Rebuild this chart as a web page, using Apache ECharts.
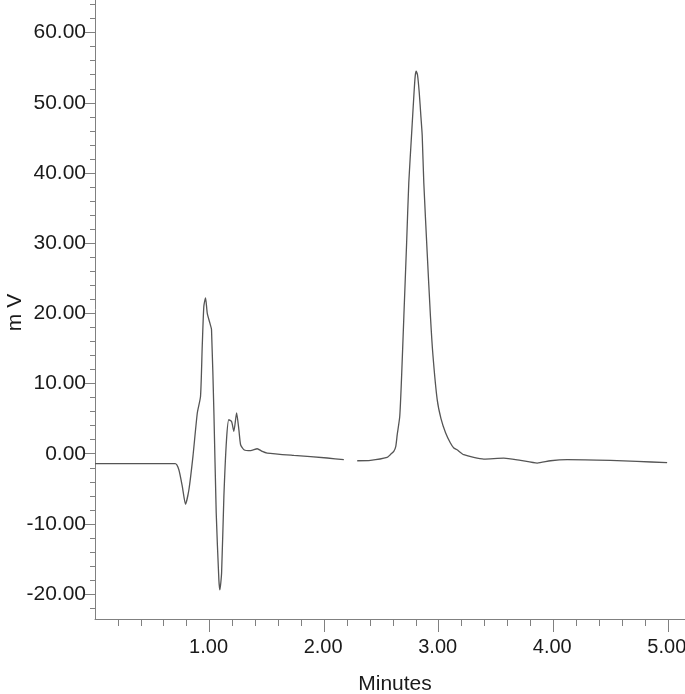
<!DOCTYPE html>
<html>
<head>
<meta charset="utf-8">
<script src="https://cdn.jsdelivr.net/npm/echarts@6/dist/echarts.min.js"></script>
<style>
html,body{margin:0;padding:0;background:#fff;}
#chart{width:685px;height:694px;}
</style>
</head>
<body>
<div id="chart"></div>
<script>
// Retention time (minutes)
const timeMin = [0.00, 0.70, 0.732, 0.762, 0.79, 0.82, 0.855, 0.893, 0.921, 0.936, 0.950, 0.965, 0.98, 1.003, 1.017, 1.038, 1.058, 1.081, 1.09, 1.105, 1.125, 1.148, 1.168, 1.192, 1.212, 1.236, 1.256, 1.271, 1.30, 1.358, 1.416, 1.46, 1.503, 1.736, 2.027, 2.172, 2.23, 2.289, 2.405, 2.55, 2.58, 2.608, 2.625, 2.638, 2.66, 2.675, 2.696, 2.72, 2.739, 2.763, 2.785, 2.795, 2.804, 2.815, 2.83, 2.845, 2.856, 2.87, 2.9, 2.928, 2.95, 2.987, 3.02, 3.06, 3.1, 3.132, 3.16, 3.219, 3.394, 3.568, 3.714, 3.86, 3.976, 4.121, 4.5, 4.73, 4.994];
// Detector signal (mV)
const signalMV = [-1.42, -1.42, -2.28, -4.66, -7.2, -5.1, -0.38, 5.8, 8.16, 15.3, 21.0, 22.2, 20.0, 18.6, 17.7, 5.8, -8.4, -17.9, -19.4, -17.0, -6.1, 2.0, 4.84, 4.6, 3.2, 5.8, 3.4, 1.28, 0.57, 0.43, 0.71, 0.33, 0.1, -0.24, -0.61, -0.85, null, -1.0, -0.95, -0.53, -0.1, 0.33, 1.0, 2.71, 5.3, 10.5, 19.6, 30.0, 38.6, 45.4, 51.5, 53.8, 54.5, 54.0, 51.5, 48.0, 45.4, 38.6, 28.5, 19.6, 14.0, 7.7, 5.0, 2.99, 1.6, 0.81, 0.57, -0.14, -0.76, -0.62, -0.95, -1.33, -1.0, -0.85, -0.95, -1.09, -1.28];

const xMajorTicks = [1, 2, 3, 4, 5];
const xMinorTicks = [0.2, 0.4, 0.6, 0.8, 1.2, 1.4, 1.6, 1.8, 2.2, 2.4, 2.6, 2.8, 3.2, 3.4, 3.6, 3.8, 4.2, 4.4, 4.6, 4.8];
const yMajorTicks = [-20, -10, 0, 10, 20, 30, 40, 50, 60];
const yMinorTicks = [-22, -18, -16, -14, -12, -8, -6, -4, -2, 2, 4, 6, 8, 12, 14, 16, 18, 22, 24, 26, 28, 32, 34, 36, 38, 42, 44, 46, 48, 52, 54, 56, 58, 62, 64];

const xName = 'Minutes';
const yName = 'm V';

const seriesData = timeMin.map((t, i) => [t, signalMV[i]]);

const font = '"Liberation Sans", Arial, Helvetica, sans-serif';
const axisGray = '#808080';
const textColor = '#1a1a1a';

const chart = echarts.init(document.getElementById('chart'), null, {renderer: 'canvas'});
chart.setOption({
  animation: false,
  backgroundColor: '#ffffff',
  grid: {left: 95, right: 0, top: 0, bottom: 75, containLabel: false, outerBoundsMode: 'none'},
  xAxis: [
    {
      type: 'value', min: 0, max: 5.15, position: 'bottom',
      name: xName, nameLocation: 'middle', nameGap: 55, nameMoveOverlap: false,
      nameTextStyle: {fontFamily: font, fontSize: 21, color: textColor, padding: [0, 0, 0, 10]},
      axisLine: {show: true, onZero: false, lineStyle: {color: axisGray, width: 1}},
      axisTick: {show: true, length: 13, customValues: xMajorTicks, lineStyle: {color: axisGray}},
      axisLabel: {show: true, customValues: xMajorTicks, margin: 18, fontSize: 20, fontFamily: font, color: textColor,
        padding: [0, 2, 0, 0], formatter: v => v.toFixed(2)},
      splitLine: {show: false}
    },
    {
      type: 'value', min: 0, max: 5.15, position: 'bottom',
      axisLine: {show: false, onZero: false},
      axisTick: {show: true, length: 7, customValues: xMinorTicks, lineStyle: {color: axisGray}},
      axisLabel: {show: false},
      splitLine: {show: false}
    }
  ],
  yAxis: [
    {
      type: 'value', min: -23.55, max: 64.65, position: 'left',
      name: yName, nameLocation: 'middle', nameGap: 69, nameRotate: 90, nameMoveOverlap: false,
      nameTextStyle: {fontFamily: font, fontSize: 21, color: textColor, padding: [0, 6, 0, 0]},
      axisLine: {show: true, onZero: false, lineStyle: {color: axisGray, width: 1}},
      axisTick: {show: true, length: 10, customValues: yMajorTicks, lineStyle: {color: axisGray}},
      axisLabel: {show: true, customValues: yMajorTicks, margin: 9, fontSize: 21, fontFamily: font, color: textColor,
        formatter: v => v.toFixed(2)},
      splitLine: {show: false}
    },
    {
      type: 'value', min: -23.55, max: 64.65, position: 'left',
      axisLine: {show: false, onZero: false},
      axisTick: {show: true, length: 5, customValues: yMinorTicks, lineStyle: {color: axisGray}},
      axisLabel: {show: false},
      splitLine: {show: false}
    }
  ],
  series: [{
    type: 'line',
    xAxisIndex: 0, yAxisIndex: 0,
    data: seriesData,
    showSymbol: false,
    symbol: 'none',
    smooth: 0.2,
    connectNulls: false,
    lineStyle: {color: '#555555', width: 1.3}
  }]
});
</script>
</body>
</html>
